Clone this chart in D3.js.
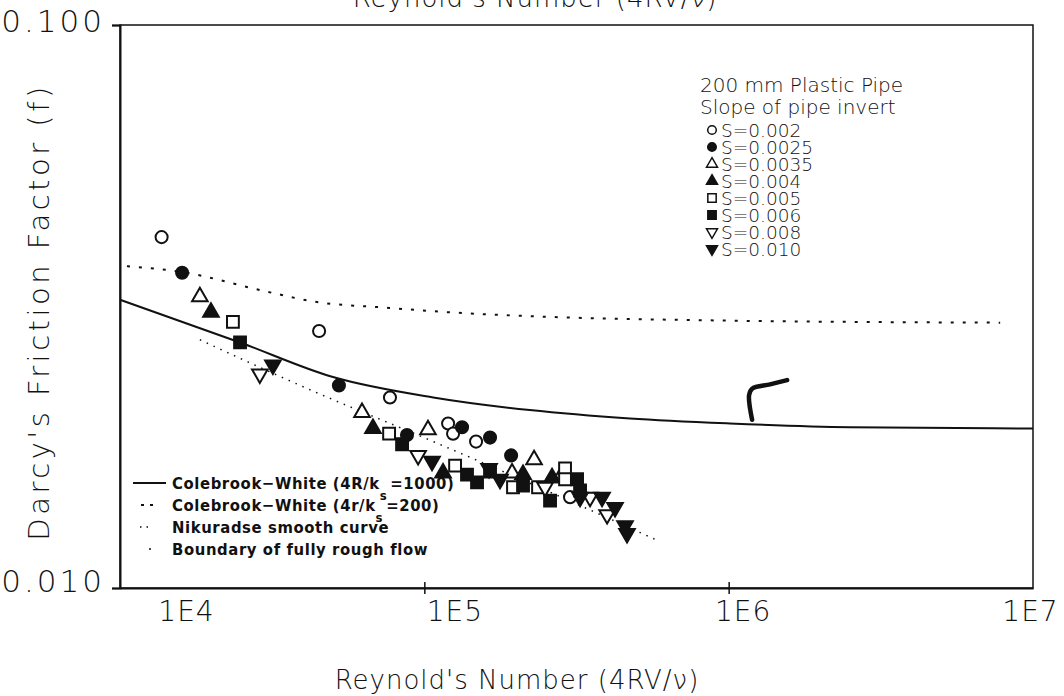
<!DOCTYPE html>
<html>
<head>
<meta charset="utf-8">
<script src="https://cdn.jsdelivr.net/npm/d3@7"></script>
<style>
  body { margin: 0; background: #fff; }
  svg text { font-family: "DejaVu Sans", sans-serif; fill: #111; }
</style>
</head>
<body>
<svg id="svg"></svg>
<script>
// axis ticks
const xTicks = [1e4, 1e5, 1e6, 1e7];
const xTickLabels = ["1E4", "1E5", "1E6", "1E7"];
const yTicks = [0.01, 0.1];
const yTickLabels = ["0.010", "0.100"];

// curves, [Re, f]
const colebrook1000 = [[1e4,0.0325],[24800,0.0273],[50100,0.0237],[107000,0.0218],[222000,0.0207],[474000,0.0200],[1.01e6,0.0196],[2.5e6,0.0193],[1e7,0.0192]];
const colebrook200 = [[10540,0.0373],[16000,0.0364],[30400,0.0336],[44400,0.0322],[73100,0.0315],[119000,0.0309],[259000,0.0303],[805000,0.0299],[7.8e6,0.0296]];
const nikuradse = [[18300,0.0276],[42100,0.0225],[104500,0.0183],[259000,0.0148],[573000,0.0122]];
const penMark = [[1.194e6,0.0199],[1.167e6,0.0220],[1.194e6,0.0226],[1.368e6,0.0230],[1.556e6,0.0234]];

// measured points per slope, [Re, f]
const slopeLabels = ["S=0.002","S=0.0025","S=0.0035","S=0.004","S=0.005","S=0.006","S=0.008","S=0.010"];
const s002 = [[13700,0.0420],[45100,0.0286],[77100,0.0218],[119700,0.0196],[124300,0.0188],[147900,0.0182],[301200,0.0145]];
const s0025 = [[16000,0.0363],[52400,0.0229],[87700,0.0187],[133000,0.0193],[164400,0.0185],[192800,0.0172]];
const s0035 = [[18300,0.0329],[62400,0.0205],[102800,0.0191],[194200,0.0160],[229400,0.0169],[279200,0.0157]];
const s004 = [[19900,0.0309],[67800,0.0192],[115200,0.0160],[211000,0.0159],[262800,0.0157]];
const s005 = [[23500,0.0297],[76600,0.0188],[126200,0.0165],[195600,0.0151],[236400,0.0151],[290000,0.0163],[290000,0.0156]];
const s006 = [[24800,0.0273],[84500,0.0180],[138100,0.0159],[149000,0.0154],[164400,0.0161],[211000,0.0152],[258900,0.0143],[317600,0.0156],[324900,0.0149]];
const s008 = [[28800,0.0240],[95400,0.0172],[249300,0.0151],[350400,0.0145],[398600,0.0135]];
const s010 = [[31800,0.0249],[106000,0.0168],[163200,0.0163],[177300,0.0156],[324900,0.0145],[383700,0.0145],[423300,0.0139],[456600,0.0129],[463500,0.0125]];

const curveLabels = ["Colebrook\u2212White (4R/k", "Colebrook\u2212White (4r/k", "Nikuradse smooth curve", "Boundary of fully rough flow"];

const w = 1064;
const h = 696;

const svg = d3.select("#svg")
  .attr("width", w)
  .attr("height", h);

const x = d3.scaleLog().domain([1e4, 1e7]).range([120, 1033]);
const y = d3.scaleLog().domain([0.01, 0.1]).range([588, 25]);

const line = d3.line().x(d => x(d[0])).y(d => y(d[1])).curve(d3.curveMonotoneX);

// marker styles
const series = [
  {data: s002,  type: d3.symbolCircle,   fill: false, rot: 0},
  {data: s0025, type: d3.symbolCircle,   fill: true,  rot: 0},
  {data: s0035, type: d3.symbolTriangle, fill: false, rot: 0},
  {data: s004,  type: d3.symbolTriangle, fill: true,  rot: 0},
  {data: s005,  type: d3.symbolSquare,   fill: false, rot: 0},
  {data: s006,  type: d3.symbolSquare,   fill: true,  rot: 0},
  {data: s008,  type: d3.symbolTriangle, fill: false, rot: 180},
  {data: s010,  type: d3.symbolTriangle, fill: true,  rot: 180}
];
const symSize = t => t === d3.symbolCircle ? 115 : (t === d3.symbolSquare ? 140 : 105);

// frame
svg.append("rect")
  .attr("x", 120).attr("y", 25)
  .attr("width", 1033 - 120).attr("height", 588 - 25)
  .attr("fill", "none").attr("stroke", "#111").attr("stroke-width", 1.5);

// x axis
const xAxis = d3.axisBottom(x).tickValues(xTicks).tickSize(0)
  .tickFormat((d, i) => xTickLabels[i]);
const gx = svg.append("g").attr("transform", "translate(0,588)").call(xAxis);
gx.select(".domain").attr("stroke", "#111").attr("stroke-width", 2);
gx.selectAll("text")
  .attr("font-size", 28).attr("font-weight", 200).style("letter-spacing", "1px")
  .attr("dy", 30).attr("dx", (d, i) => [66, 30, 14, -3][i]);
gx.selectAll(".tick").append("line")
  .attr("y1", -6).attr("y2", 6).attr("stroke", "#111").attr("stroke-width", 1.5)
  .filter((d, i) => i === 0 || i === 3).remove();

// y axis
const yAxis = d3.axisLeft(y).tickValues(yTicks).tickSize(8)
  .tickFormat((d, i) => yTickLabels[i]);
const gy = svg.append("g").attr("transform", "translate(120,0)").call(yAxis);
gy.select(".domain").attr("stroke", "#111").attr("stroke-width", 2);
gy.selectAll(".tick line").attr("stroke", "#111").attr("stroke-width", 1.5);
gy.selectAll("text")
  .attr("font-size", 31).attr("font-weight", 200).attr("dx", -4)
  .style("letter-spacing", "3px")
  .attr("dy", (d, i) => i === 1 ? "0.2em" : "0.1em");

// axis titles
svg.append("text")
  .attr("transform", "translate(49,312) rotate(-90)")
  .attr("text-anchor", "middle")
  .attr("font-size", 29).attr("font-weight", 200).style("letter-spacing", "3.5px")
  .text("Darcy's Friction Factor (f)");
svg.append("text")
  .attr("x", 517).attr("y", 689)
  .attr("text-anchor", "middle")
  .attr("font-size", 26).attr("font-weight", 200).style("letter-spacing", "1px")
  .text("Reynold's Number (4RV/\u03bd)");
// top edge of the scanned page shows the title again, cut off
svg.append("text")
  .attr("x", 535).attr("y", 7)
  .attr("text-anchor", "middle")
  .attr("font-size", 26).attr("font-weight", 200).style("letter-spacing", "1px")
  .text("Reynold's Number (4RV/\u03bd)");

// curves
svg.append("path").datum(colebrook1000).attr("d", line)
  .attr("fill", "none").attr("stroke", "#111").attr("stroke-width", 2);
svg.append("path").datum(colebrook200).attr("d", line)
  .attr("fill", "none").attr("stroke", "#111").attr("stroke-width", 2)
  .attr("stroke-dasharray", "3,9");
svg.append("path").datum(nikuradse).attr("d", line)
  .attr("fill", "none").attr("stroke", "#111").attr("stroke-width", 1.5)
  .attr("stroke-dasharray", "1.5,6");
svg.append("path").datum(penMark).attr("d", d3.line().x(d => x(d[0])).y(d => y(d[1])).curve(d3.curveCatmullRom))
  .attr("fill", "none").attr("stroke", "#111").attr("stroke-width", 4.5)
  .attr("stroke-linecap", "round");

// points
series.forEach(s => {
  svg.append("g").selectAll("path")
    .data(s.data)
    .enter()
    .append("path")
    .attr("d", d3.symbol().type(s.type).size(symSize(s.type)))
    .attr("transform", d => "translate(" + x(d[0]) + "," + y(d[1]) + ") rotate(" + s.rot + ")")
    .attr("fill", s.fill ? "#111" : "#fff")
    .attr("stroke", "#111").attr("stroke-width", 2);
});

// legend, top right
const lg = svg.append("g");
lg.append("text").attr("x", 700).attr("y", 92).attr("font-size", 20).attr("font-weight", 200)
  .text("200 mm Plastic Pipe");
lg.append("text").attr("x", 700).attr("y", 114).attr("font-size", 20).attr("font-weight", 200)
  .text("Slope of pipe invert");
series.forEach((s, i) => {
  const yy = 130 + i * 17;
  lg.append("path")
    .attr("d", d3.symbol().type(s.type).size(symSize(s.type) * 0.5))
    .attr("transform", "translate(712," + yy + ") rotate(" + s.rot + ")")
    .attr("fill", s.fill ? "#111" : "#fff")
    .attr("stroke", "#111").attr("stroke-width", 1.5);
  lg.append("text").attr("x", 721).attr("y", yy + 7).attr("font-size", 18.5).attr("font-weight", 200)
    .text(slopeLabels[i]);
});

// legend, bottom left
const cl = svg.append("g");
const clY = [483, 505, 527, 549];
cl.append("line").attr("x1", 133).attr("x2", 166).attr("y1", clY[0]).attr("y2", clY[0])
  .attr("stroke", "#111").attr("stroke-width", 2);
cl.append("line").attr("x1", 141).attr("x2", 156).attr("y1", clY[1]).attr("y2", clY[1])
  .attr("stroke", "#111").attr("stroke-width", 2).attr("stroke-dasharray", "3,6");
cl.append("line").attr("x1", 140).attr("x2", 150).attr("y1", clY[2]).attr("y2", clY[2])
  .attr("stroke", "#111").attr("stroke-width", 1.5).attr("stroke-dasharray", "1.5,5");
cl.append("circle").attr("cx", 150).attr("cy", clY[3]).attr("r", 1).attr("fill", "#111");
const legendFont = "'DejaVu Sans Condensed', 'DejaVu Sans', sans-serif";
const t1 = cl.append("text").attr("x", 172).attr("y", clY[0] + 6)
  .attr("font-size", 16.5).attr("font-weight", 600).style("font-family", legendFont)
  .style("letter-spacing", "0.6px");
t1.append("tspan").text(curveLabels[0]);
t1.append("tspan").attr("dy", 11).attr("font-size", 13).text("s");
t1.append("tspan").attr("dy", -11).attr("dx", 3).text("=1000)");
const t2 = cl.append("text").attr("x", 172).attr("y", clY[1] + 6)
  .attr("font-size", 16.5).attr("font-weight", 600).style("font-family", legendFont)
  .style("letter-spacing", "0.6px");
t2.append("tspan").text(curveLabels[1]);
t2.append("tspan").attr("dy", 11).attr("font-size", 13).text("s");
t2.append("tspan").attr("dy", -11).attr("dx", 3).text("=200)");
cl.append("text").attr("x", 172).attr("y", clY[2] + 6)
  .attr("font-size", 16.5).attr("font-weight", 600).style("font-family", legendFont)
  .style("letter-spacing", "0.6px")
  .text(curveLabels[2]);
cl.append("text").attr("x", 172).attr("y", clY[3] + 6)
  .attr("font-size", 16.5).attr("font-weight", 600).style("font-family", legendFont)
  .style("letter-spacing", "0.6px")
  .text(curveLabels[3]);
</script>
</body>
</html>
